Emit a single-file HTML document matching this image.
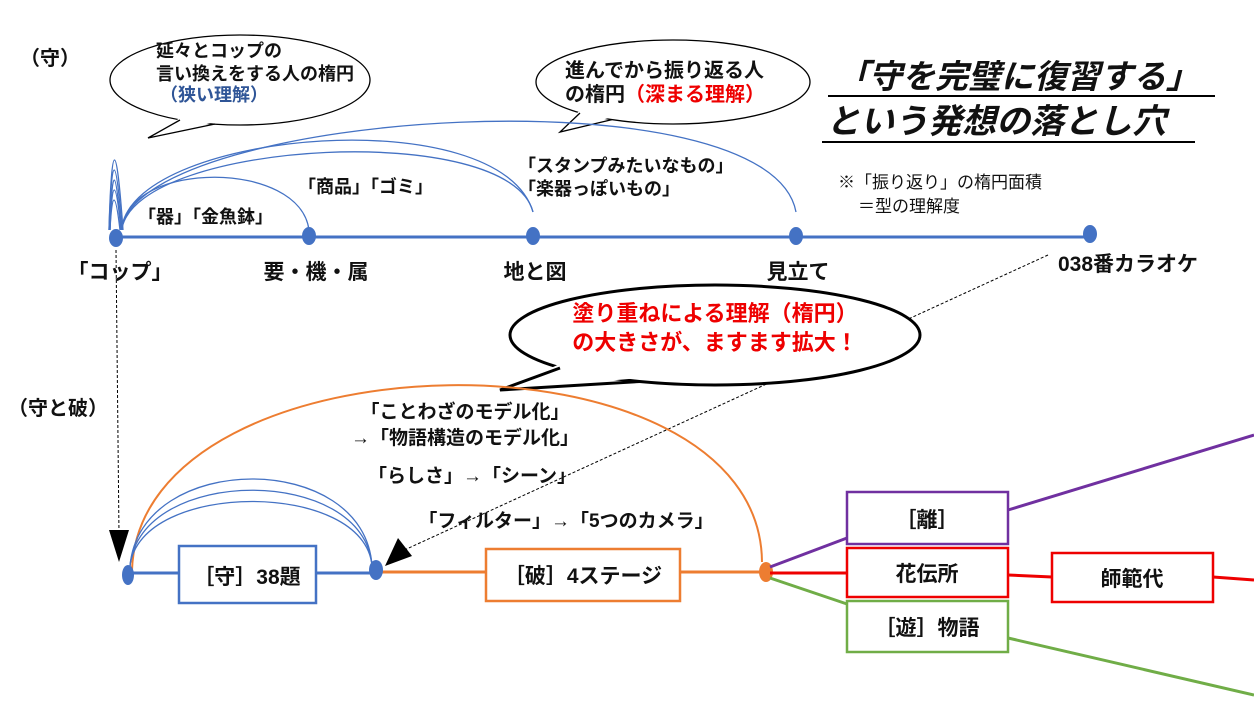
<!DOCTYPE html>
<html><head><meta charset="utf-8"><style>
body{margin:0;background:#fff}
svg text{font-family:"Liberation Sans","Noto Sans CJK JP",sans-serif;font-weight:bold;fill:#111}
</style></head><body>
<svg width="1254" height="699" viewBox="0 0 1254 699" xmlns="http://www.w3.org/2000/svg">
<text x="20" y="65" font-size="20">（守）</text>
<text x="8" y="415" font-size="20">（守と破）</text>
<!-- top bubbles -->
<ellipse cx="240" cy="80" rx="130" ry="45" fill="#fff" stroke="#000" stroke-width="1.3"/>
<polygon points="180,118 148,138 215,122" fill="#fff"/>
<polyline points="180,120 148,138 215,124" fill="none" stroke="#000" stroke-width="1.3"/>
<text x="156" y="57" font-size="18">延々とコップの</text>
<text x="156" y="80" font-size="18">言い換えをする人の楕円</text>
<text x="160" y="101" font-size="18" style="fill:#2f5597">（狭い理解）</text>
<ellipse cx="673" cy="82" rx="137" ry="42" fill="#fff" stroke="#000" stroke-width="1.3"/>
<polygon points="580,110 560,132 612,117" fill="#fff"/>
<polyline points="580,113 560,132 612,119.6" fill="none" stroke="#000" stroke-width="1.3"/>
<text x="565" y="77" font-size="20">進んでから振り返る人</text>
<text x="565" y="101" font-size="20">の楕円<tspan style="fill:#e00">（深まる理解）</tspan></text>
<!-- title -->
<text x="836" y="88" font-size="33" font-style="italic">「守を完璧に復習する」</text>
<line x1="828" y1="96" x2="1215" y2="96" stroke="#000" stroke-width="2"/>
<text x="826" y="133" font-size="34" font-style="italic">という発想の落とし穴</text>
<line x1="822" y1="142" x2="1195" y2="142" stroke="#000" stroke-width="2"/>
<text x="838" y="188" font-size="17" style="font-weight:normal">※「振り返り」の楕円面積</text>
<text x="858" y="212" font-size="17" style="font-weight:normal">＝型の理解度</text>
<!-- top arcs -->
<g fill="none" stroke="#4472c4" stroke-width="1.3">
<path d="M109,230 Q113,90 123,230"/><path d="M109,230 Q113,110 122,230"/><path d="M110,230 Q113,130 121,230"/><path d="M110,230 Q113,150 121,230"/><path d="M110,230 Q113,170 120,230"/>
<path d="M122,228 C130,160 300,160 309,230"/>
<path d="M122,228 C140,140 510,120 533,212"/>
<path d="M122,226 C150,110 770,70 796,212"/>
<path d="M122,226 C140,130 500,100 533,212"/>
</g>
<line x1="116" y1="237" x2="1090" y2="237" stroke="#4472c4" stroke-width="3"/>
<g fill="#4472c4"><ellipse cx="116" cy="238" rx="7" ry="9"/><ellipse cx="309" cy="236" rx="7" ry="9"/><ellipse cx="533" cy="236" rx="7" ry="9"/><ellipse cx="796" cy="236" rx="7" ry="9"/><ellipse cx="1090" cy="234" rx="7" ry="9"/></g>
<text x="138" y="223" font-size="18">「器」「金魚鉢」</text>
<text x="298" y="193" font-size="18">「商品」「ゴミ」</text>
<text x="518" y="172" font-size="18">「スタンプみたいなもの」</text>
<text x="518" y="195" font-size="18">「楽器っぽいもの」</text>
<g font-size="21" text-anchor="middle"><text x="120" y="279">「コップ」</text><text x="316" y="279">要・機・属</text><text x="535" y="279">地と図</text><text x="798" y="279">見立て</text><text x="1128" y="271">038番カラオケ</text></g>
<!-- dashed -->
<line x1="116" y1="250" x2="119" y2="535" stroke="#000" stroke-width="1" stroke-dasharray="3,2"/>
<path d="M109,530 L129,530 L119,562z" fill="#000"/>
<line x1="1048" y1="255" x2="400" y2="552" stroke="#000" stroke-width="1" stroke-dasharray="3,2"/>
<path d="M385,566 L398,538 L412,556z" fill="#000"/>
<!-- big bubble -->
<ellipse cx="715" cy="335" rx="205" ry="50" fill="#fff" stroke="#000" stroke-width="3"/>
<polygon points="560,364 500,390 640,378" fill="#fff"/>
<polyline points="560,368 500,390 640,381.5" fill="none" stroke="#000" stroke-width="3"/>
<text x="715" y="321" font-size="22" text-anchor="middle" style="fill:#e00">塗り重ねによる理解（楕円）</text>
<text x="715" y="350" font-size="22" text-anchor="middle" style="fill:#e00">の大きさが、ますます拡大！</text>
<!-- bottom arcs -->
<path d="M132,570 C140,330 760,320 762,562" fill="none" stroke="#ed7d31" stroke-width="2"/>
<g fill="none" stroke="#4472c4" stroke-width="1.3">
<path d="M130,566 C140,450 365,450 372,566"/><path d="M130,566 C140,465 365,465 372,566"/><path d="M130,566 C140,480 365,480 372,566"/>
</g>
<text x="465" y="418" font-size="19" text-anchor="middle">「ことわざのモデル化」</text>
<text x="465" y="444" font-size="19" text-anchor="middle">→「物語構造のモデル化」</text>
<text x="472" y="482" font-size="19" text-anchor="middle">「らしさ」→「シーン」</text>
<text x="566" y="527" font-size="19" text-anchor="middle">「フィルター」→「5つのカメラ」</text>
<line x1="128" y1="573" x2="376" y2="573" stroke="#4472c4" stroke-width="3"/>
<line x1="376" y1="572" x2="766" y2="572" stroke="#ed7d31" stroke-width="3"/>
<rect x="179" y="546" width="137" height="57" fill="#fff" stroke="#4472c4" stroke-width="2.5"/>
<text x="247" y="584" font-size="21" text-anchor="middle">［守］38題</text>
<rect x="486" y="549" width="194" height="52" fill="#fff" stroke="#ed7d31" stroke-width="2.5"/>
<text x="583" y="583" font-size="21" text-anchor="middle">［破］4ステージ</text>
<ellipse cx="128" cy="575" rx="6" ry="10" fill="#4472c4"/>
<ellipse cx="376" cy="570" rx="7" ry="10" fill="#4472c4"/>
<ellipse cx="766" cy="572" rx="7" ry="10" fill="#ed7d31"/>
<!-- right -->
<line x1="770" y1="567" x2="847" y2="538" stroke="#7030a0" stroke-width="3"/>
<line x1="1008" y1="510" x2="1254" y2="435" stroke="#7030a0" stroke-width="3"/>
<line x1="770" y1="573" x2="847" y2="573" stroke="#e00" stroke-width="3"/>
<line x1="1008" y1="575" x2="1052" y2="577" stroke="#e00" stroke-width="3"/>
<line x1="1213" y1="577" x2="1254" y2="580" stroke="#e00" stroke-width="3"/>
<line x1="770" y1="578" x2="847" y2="604" stroke="#70ad47" stroke-width="3"/>
<line x1="1008" y1="638" x2="1254" y2="695" stroke="#70ad47" stroke-width="3"/>
<rect x="847" y="492" width="161" height="52" fill="#fff" stroke="#7030a0" stroke-width="2.5"/>
<text x="927" y="527" font-size="21" text-anchor="middle">［離］</text>
<rect x="847" y="548" width="161" height="49" fill="#fff" stroke="#e00" stroke-width="2.5"/>
<text x="927" y="581" font-size="21" text-anchor="middle">花伝所</text>
<rect x="1052" y="553" width="161" height="49" fill="#fff" stroke="#e00" stroke-width="2.5"/>
<text x="1132" y="586" font-size="21" text-anchor="middle">師範代</text>
<rect x="847" y="601" width="161" height="51" fill="#fff" stroke="#70ad47" stroke-width="2.5"/>
<text x="927" y="635" font-size="21" text-anchor="middle">［遊］物語</text>
</svg>
</body></html>
